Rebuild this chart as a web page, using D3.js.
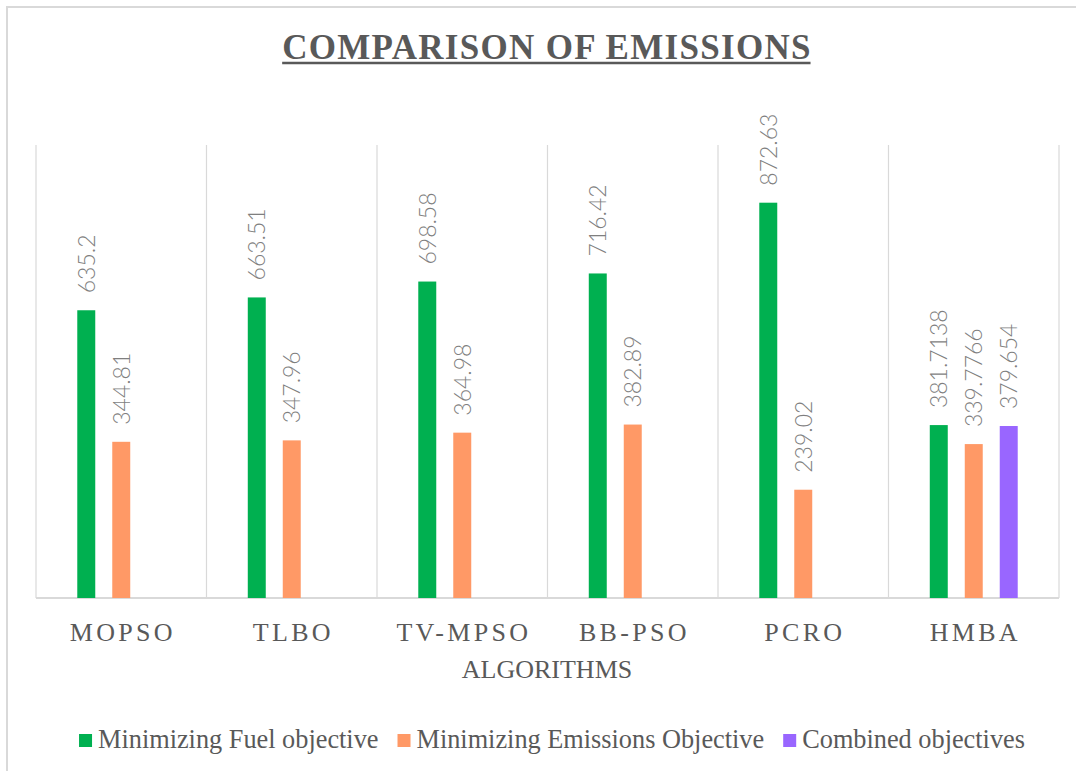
<!DOCTYPE html>
<html>
<head>
<meta charset="utf-8">
<script src="https://cdn.jsdelivr.net/npm/d3@7"></script>
<style>
  html, body { margin: 0; padding: 0; background: #ffffff; }
  svg { display: block; }
  .serif { font-family: "Times New Roman", "Liberation Serif", Tinos, Times, "DejaVu Serif", serif; }
  .label { font-family: Lato, "Open Sans", sans-serif; font-weight: 300; }
</style>
</head>
<body>
<svg id="chart" width="1076" height="771"></svg>
<script>
// Algorithms compared
const categories = ["MOPSO", "TLBO", "TV-MPSO", "BB-PSO", "PCRO", "HMBA"];
// Series names
const seriesNames = ["Minimizing Fuel objective", "Minimizing Emissions Objective", "Combined objectives"];
// Values per series (null = no bar)
const fuelValues = [635.2, 663.51, 698.58, 716.42, 872.63, 381.7138];
const emissionValues = [344.81, 347.96, 364.98, 382.89, 239.02, 339.7766];
const combinedValues = [null, null, null, null, null, 379.654];
const seriesColors = ["#00b050", "#ff9966", "#9966ff"];

const W = 1076, H = 771;
const svg = d3.select("#chart");

// outer chart frame
svg.append("rect")
  .attr("x", 7).attr("y", 7)
  .attr("width", W + 20).attr("height", H + 20)
  .attr("fill", "#ffffff")
  .attr("stroke", "#d9d9d9").attr("stroke-width", 2);

const plot = { left: 36, right: 1059, top: 145, bottom: 598 };

const x0 = d3.scaleBand().domain(categories).range([plot.left, plot.right]).padding(0);
const x1 = d3.scaleBand().domain(seriesNames).range([0, x0.bandwidth()])
  .paddingInner(0.486).paddingOuter(1.18);
const y = d3.scaleLinear().domain([0, 1000]).range([plot.bottom, plot.top]);

// vertical gridlines at category boundaries
const bounds = categories.map(c => x0(c)).concat([x0(categories[categories.length - 1]) + x0.bandwidth()]);
svg.append("g").selectAll("line").data(bounds).join("line")
  .attr("x1", d => d).attr("x2", d => d)
  .attr("y1", plot.top).attr("y2", plot.bottom)
  .attr("stroke", "#d9d9d9").attr("stroke-width", 1.2);

// category axis line
svg.append("line")
  .attr("x1", plot.left).attr("x2", plot.right)
  .attr("y1", plot.bottom).attr("y2", plot.bottom)
  .attr("stroke", "#d9d9d9").attr("stroke-width", 2);

const seriesValues = [fuelValues, emissionValues, combinedValues];
const rows = [];
categories.forEach((c, i) => {
  seriesNames.forEach((s, j) => {
    const v = seriesValues[j][i];
    if (v != null) rows.push({ cat: c, series: s, value: v, color: seriesColors[j] });
  });
});

// bars
svg.append("g").selectAll("rect").data(rows).join("rect")
  .attr("x", d => x0(d.cat) + x1(d.series))
  .attr("y", d => y(d.value))
  .attr("width", x1.bandwidth())
  .attr("height", d => y(0) - y(d.value))
  .attr("fill", d => d.color);

// value labels, rotated
svg.append("g").selectAll("text").data(rows).join("text")
  .attr("class", "label")
  .attr("transform", d => `translate(${x0(d.cat) + x1(d.series) + x1.bandwidth() / 2},${y(d.value) - 17}) rotate(-90)`)
  .attr("dy", "0.36em")
  .attr("text-anchor", "start")
  .attr("font-size", 23)
  .attr("fill", "#7f7f7f")
  .text(d => String(d.value));

// category tick labels
svg.append("g").selectAll("text").data(categories).join("text")
  .attr("class", "serif")
  .attr("x", d => x0(d) + x0.bandwidth() / 2 + 1.6)
  .attr("y", 641)
  .attr("text-anchor", "middle")
  .attr("font-size", 26)
  .attr("letter-spacing", 3.3)
  .attr("fill", "#595959")
  .text(d => d);

// axis title
svg.append("text")
  .attr("class", "serif")
  .attr("x", 547).attr("y", 678)
  .attr("text-anchor", "middle")
  .attr("font-size", 26)
  .attr("fill", "#595959")
  .text("ALGORITHMS");

// chart title with underline
const title = svg.append("text")
  .attr("class", "serif")
  .attr("x", 547).attr("y", 59)
  .attr("text-anchor", "middle")
  .attr("font-weight", "bold")
  .attr("font-size", 35)
  .attr("letter-spacing", 1.3)
  .attr("fill", "#595959")
  .text("COMPARISON OF EMISSIONS");
const tb = title.node().getBBox();
svg.append("line")
  .attr("x1", tb.x).attr("x2", tb.x + tb.width - 1.3)
  .attr("y1", 63).attr("y2", 63)
  .attr("stroke", "#595959").attr("stroke-width", 2.5);

// legend
const legend = svg.append("g");
const sq = 13, gapText = 6, gapItem = 19;
let cx = 0;
seriesNames.forEach((name, i) => {
  const g = legend.append("g");
  g.append("rect").attr("x", 0).attr("y", -14).attr("width", sq).attr("height", sq)
    .attr("fill", seriesColors[i]);
  const t = g.append("text").attr("class", "serif").attr("x", sq + gapText).attr("y", 0)
    .attr("font-size", 26.3).attr("fill", "#595959").text(name);
  const w = sq + gapText + t.node().getComputedTextLength();
  g.attr("transform", `translate(${cx},0)`);
  cx += w + gapItem;
});
const totalW = cx - gapItem;
legend.attr("transform", `translate(${552 - totalW / 2},748)`);
</script>
</body>
</html>
